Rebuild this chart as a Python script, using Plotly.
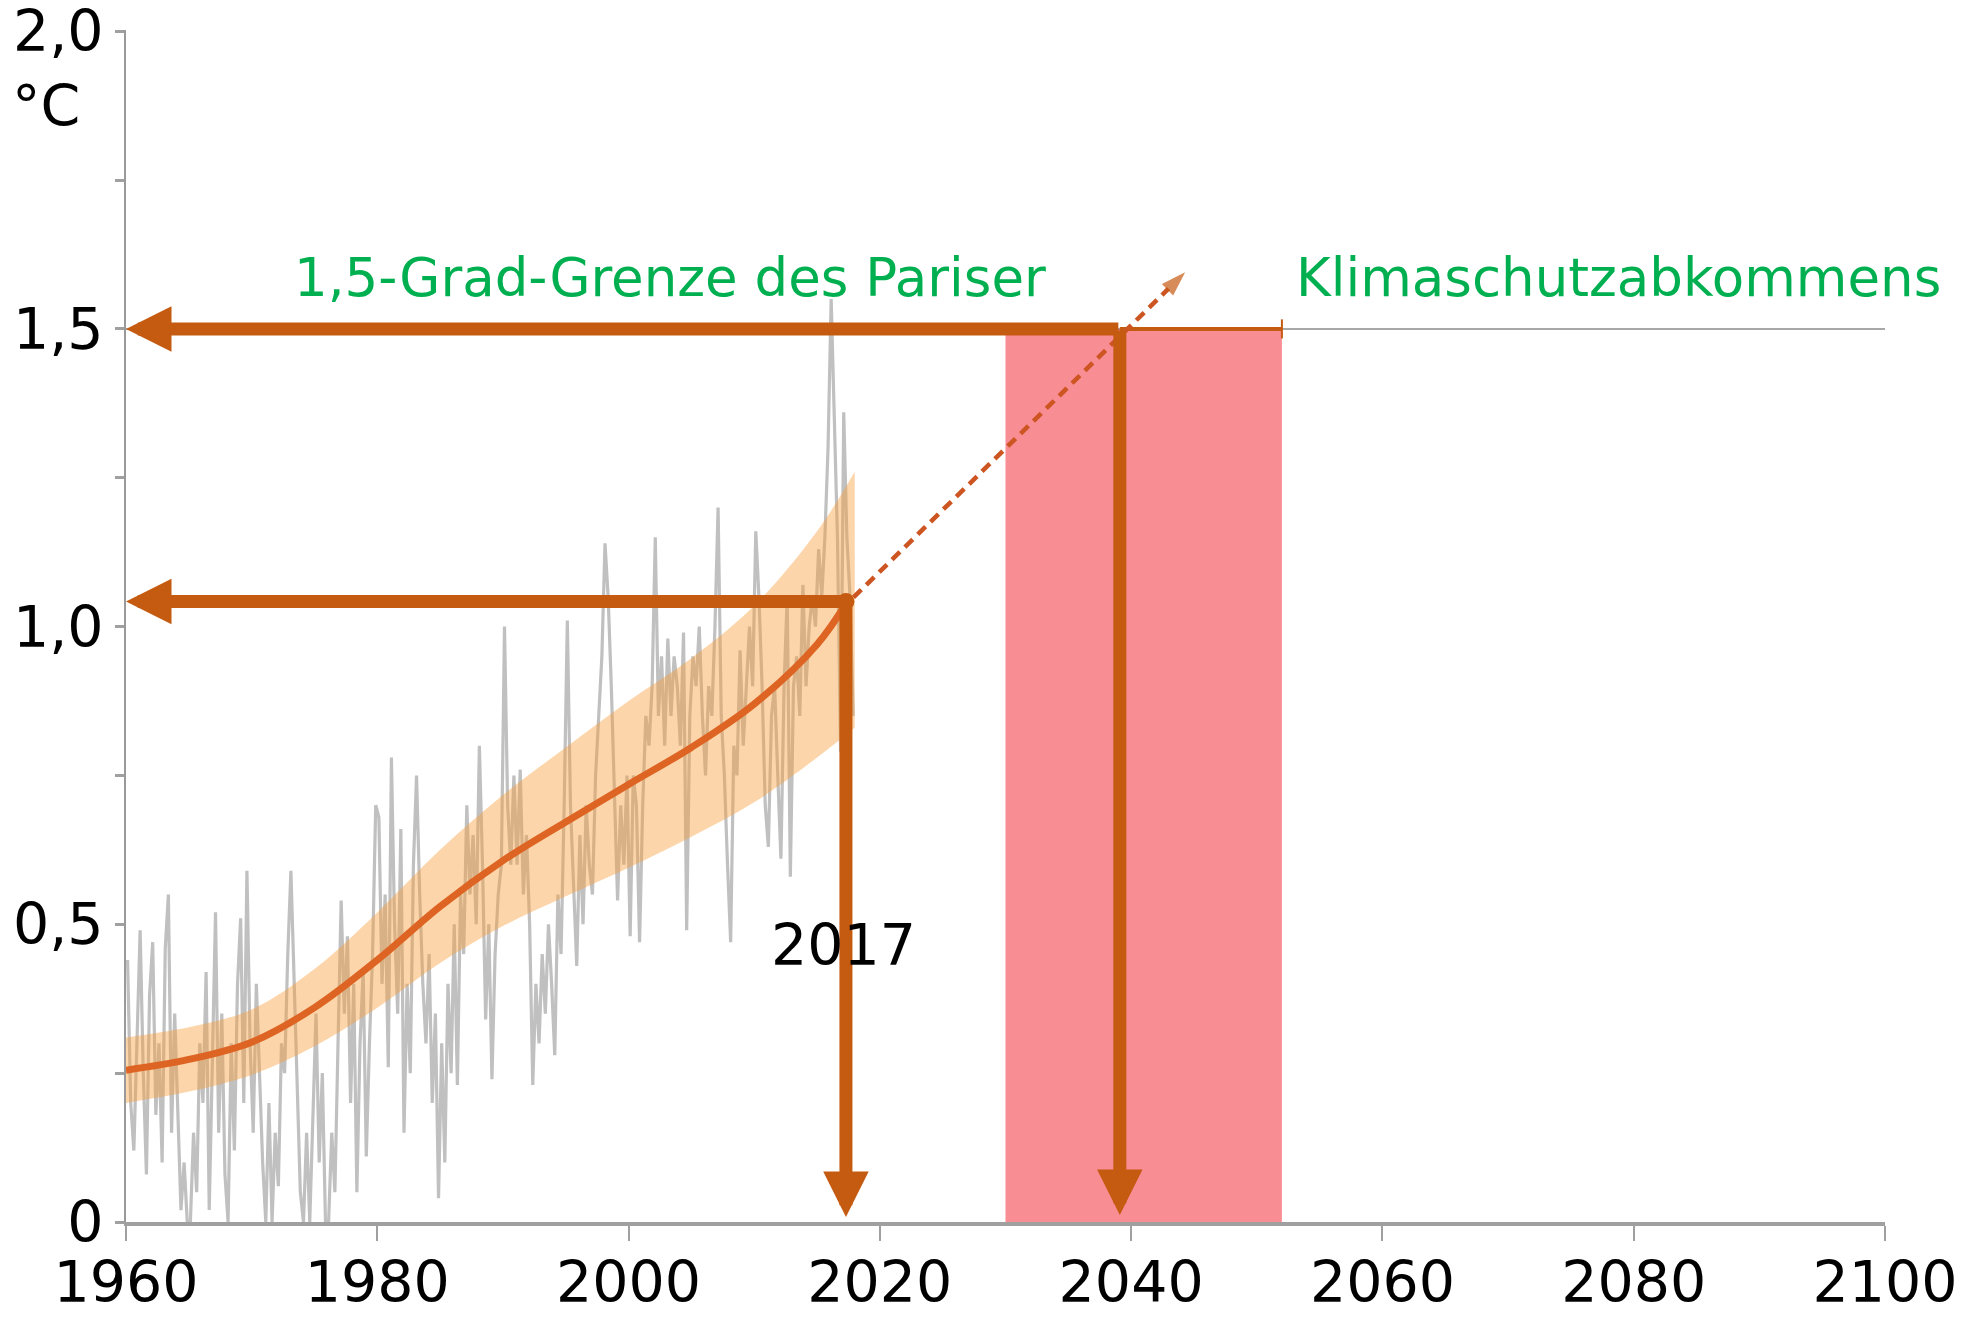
import numpy as np
import plotly.graph_objects as go

# ---------------- data ----------------
# observed anomaly (grey), estimated quarterly values 1960-2017
grey_start_year = 1960
grey_values = [
    0.44, 0.20, 0.12, 0.30,   # 1960
    0.49, 0.25, 0.08, 0.38,   # 1961
    0.47, 0.18, 0.30, 0.10,   # 1962
    0.46, 0.55, 0.15, 0.35,   # 1963
    0.20, 0.02, 0.10, 0.00,   # 1964
    0.00, 0.15, 0.05, 0.30,   # 1965
    0.20, 0.42, 0.02, 0.25,   # 1966
    0.52, 0.15, 0.35, 0.08,   # 1967
    0.00, 0.30, 0.12, 0.40,   # 1968
    0.51, 0.20, 0.59, 0.30,   # 1969
    0.15, 0.40, 0.25, 0.10,   # 1970
    0.00, 0.20, 0.00, 0.15,   # 1971
    0.06, 0.30, 0.25, 0.45,   # 1972
    0.59, 0.40, 0.20, 0.05,   # 1973
    0.00, 0.15, 0.00, 0.20,   # 1974
    0.35, 0.10, 0.25, 0.00,   # 1975
    0.00, 0.15, 0.05, 0.30,   # 1976
    0.54, 0.35, 0.48, 0.20,   # 1977
    0.40, 0.05, 0.30, 0.42,   # 1978
    0.11, 0.30, 0.45, 0.70,   # 1979
    0.68, 0.40, 0.55, 0.26,   # 1980
    0.78, 0.50, 0.35, 0.66,   # 1981
    0.15, 0.40, 0.25, 0.60,   # 1982
    0.75, 0.55, 0.40, 0.30,   # 1983
    0.45, 0.20, 0.35, 0.04,   # 1984
    0.30, 0.10, 0.40, 0.25,   # 1985
    0.50, 0.23, 0.55, 0.45,   # 1986
    0.70, 0.55, 0.65, 0.50,   # 1987
    0.80, 0.60, 0.34, 0.50,   # 1988
    0.24, 0.45, 0.55, 0.60,   # 1989
    1.00, 0.70, 0.60, 0.75,   # 1990
    0.60, 0.76, 0.55, 0.65,   # 1991
    0.50, 0.23, 0.40, 0.30,   # 1992
    0.45, 0.35, 0.50, 0.40,   # 1993
    0.28, 0.55, 0.45, 0.70,   # 1994
    1.01, 0.70, 0.55, 0.43,   # 1995
    0.65, 0.50, 0.70, 0.60,   # 1996
    0.55, 0.75, 0.85, 0.95,   # 1997
    1.14, 1.05, 0.90, 0.70,   # 1998
    0.54, 0.70, 0.60, 0.75,   # 1999
    0.48, 0.75, 0.70, 0.47,   # 2000
    0.70, 0.85, 0.80, 0.90,   # 2001
    1.15, 0.85, 0.95, 0.80,   # 2002
    0.98, 0.85, 0.95, 0.90,   # 2003
    0.80, 0.99, 0.49, 0.85,   # 2004
    0.95, 0.90, 1.00, 0.85,   # 2005
    0.75, 0.90, 0.85, 1.00,   # 2006
    1.20, 0.85, 0.75, 0.60,   # 2007
    0.47, 0.80, 0.75, 0.96,   # 2008
    0.80, 0.90, 1.00, 0.90,   # 2009
    1.16, 1.05, 0.90, 0.70,   # 2010
    0.63, 0.85, 0.90, 0.75,   # 2011
    0.61, 0.90, 1.05, 0.58,   # 2012
    0.90, 0.95, 0.85, 1.07,   # 2013
    0.90, 1.00, 1.05, 1.00,   # 2014
    1.13, 1.05, 1.15, 1.30,   # 2015
    1.55, 1.35, 1.15, 0.79,   # 2016
    1.36, 1.15, 1.05, 0.85,   # 2017
]

# smoothed trend and uncertainty band
trend_years = [1960, 1965, 1970, 1975, 1980, 1985, 1990, 1995, 2000, 2005, 2010, 2015, 2017.4]
trend_values = [0.255, 0.273, 0.302, 0.36, 0.44, 0.53, 0.607, 0.672, 0.735, 0.797, 0.87, 0.97, 1.042]
band_years = [1960, 1965, 1970, 1975, 1980, 1985, 1990, 1995, 2000, 2005, 2010, 2015, 2018]
band_upper = [0.31, 0.327, 0.357, 0.425, 0.52, 0.625, 0.717, 0.797, 0.875, 0.947, 1.035, 1.16, 1.26]
band_lower = [0.20, 0.219, 0.247, 0.295, 0.36, 0.435, 0.497, 0.547, 0.595, 0.647, 0.705, 0.78, 0.83]

# key points
year_now = 2017.3
temp_now = 1.042
year_limit = 2039.1
limit_temp = 1.5
range_start, range_end = 2030, 2052
proj_start = (2017.9, 1.049)
proj_end = (2044.3, 1.595)

x_ticks = [1960, 1980, 2000, 2020, 2040, 2060, 2080, 2100]
y_ticks = [0, 0.25, 0.5, 0.75, 1.0, 1.25, 1.5, 1.75, 2.0]
y_ticktext = ["0", "", "0,5", "", "1,0", "", "1,5", "", "2,0"]

title_left = "1,5-Grad-Grenze des Pariser"
title_right = "Klimaschutzabkommens"

# ---------------- styles ----------------
FONT = "DejaVu Sans"
ARROW = "#C55A11"
GREEN = "#00B050"
GREY = "#C0C0C0"
AXIS_GREY = "#A0A0A0"

grey_x = grey_start_year + np.arange(len(grey_values)) * 0.25 + 0.125

fig = go.Figure()

# thin reference line at 1.5
fig.add_trace(go.Scatter(x=[x_ticks[0], x_ticks[-1]], y=[limit_temp, limit_temp], mode="lines",
                         line=dict(color="#A8A8A8", width=2), hoverinfo="skip"))

# grey observations
fig.add_trace(go.Scatter(x=grey_x, y=grey_values, mode="lines",
                         line=dict(color=GREY, width=3.2), hoverinfo="skip"))

# uncertainty band
fig.add_trace(go.Scatter(x=band_years, y=band_lower, mode="lines",
                         line=dict(width=0, shape="spline"), hoverinfo="skip"))
fig.add_trace(go.Scatter(x=band_years, y=band_upper, mode="lines", fill="tonexty",
                         fillcolor="rgba(248,157,57,0.43)",
                         line=dict(width=0, shape="spline"), hoverinfo="skip"))

# trend line
fig.add_trace(go.Scatter(x=trend_years, y=trend_values, mode="lines",
                         line=dict(color="#DE6424", width=7, shape="spline"), hoverinfo="skip"))

# red target range
fig.add_trace(go.Scatter(x=[range_start, range_end, range_end, range_start, range_start],
                         y=[0, 0, limit_temp, limit_temp, 0], fill="toself",
                         fillcolor="rgba(242,55,65,0.57)", line=dict(width=0),
                         mode="lines", hoverinfo="skip"))

# thin orange continuation at 1.5 with end tick
fig.add_trace(go.Scatter(x=[year_limit, range_end], y=[limit_temp, limit_temp], mode="lines",
                         line=dict(color=ARROW, width=4), hoverinfo="skip"))
fig.add_trace(go.Scatter(x=[range_end, range_end], y=[limit_temp - 0.016, limit_temp + 0.016],
                         mode="lines", line=dict(color=ARROW, width=2), hoverinfo="skip"))

# dashed projection arrow
fig.add_trace(go.Scatter(x=[proj_start[0], proj_end[0]], y=[proj_start[1], proj_end[1]],
                         mode="lines+markers",
                         line=dict(color="#CC5522", width=4.5, dash="11px,7px"),
                         marker=dict(symbol=["circle", "arrow"], size=[0, 26], color=ARROW,
                                     angleref="previous", line=dict(width=0)),
                         hoverinfo="skip"))

# corner dot at 2017
fig.add_trace(go.Scatter(x=[year_now], y=[temp_now], mode="markers",
                         marker=dict(color=ARROW, size=17), hoverinfo="skip"))

annotations = []


def arrow(x_tip, y_tip, x_tail, y_tail, standoff=0):
    annotations.append(dict(x=x_tip, y=y_tip, ax=x_tail, ay=y_tail, xref="x", yref="y",
                            axref="x", ayref="y", text="", showarrow=True, arrowhead=2,
                            arrowwidth=13, arrowsize=0.7, arrowcolor=ARROW, standoff=standoff))


arrow(x_ticks[0], temp_now, year_now, temp_now)
arrow(year_now, 0, year_now, temp_now, standoff=5)
arrow(x_ticks[0], limit_temp, year_limit, limit_temp)
arrow(year_limit, 0, year_limit, limit_temp, standoff=7)

annotations += [
    dict(x=1973.2, y=1.586, xref="x", yref="y", text=title_left, showarrow=False,
         xanchor="left", yanchor="middle", font=dict(family=FONT, size=53, color=GREEN)),
    dict(x=2053.0, y=1.586, xref="x", yref="y", text=title_right, showarrow=False,
         xanchor="left", yanchor="middle", font=dict(family=FONT, size=53, color=GREEN)),
    dict(x=2017.1, y=0.465, xref="x", yref="y", text="2017", showarrow=False,
         xanchor="center", yanchor="middle", font=dict(family=FONT, size=57, color="black")),
    dict(x=-0.066, y=0.936, xref="paper", yref="paper", text="°C", showarrow=False,
         xanchor="left", yanchor="middle", font=dict(family=FONT, size=57, color="black")),
]

fig.update_layout(
    width=1975, height=1319,
    margin=dict(l=126, r=90, t=30, b=97, autoexpand=False),
    paper_bgcolor="white", plot_bgcolor="white",
    showlegend=False,
    annotations=annotations,
    font=dict(family=FONT, size=57, color="black"),
)
fig.update_xaxes(range=[x_ticks[0], x_ticks[-1]], tickvals=x_ticks, ticktext=[str(t) for t in x_ticks],
                 ticks="outside", ticklen=15, tickwidth=2, tickcolor=AXIS_GREY, automargin=False,
                 ticklabeloverflow="allow", ticklabelstandoff=-7,
                 showline=True, linecolor=AXIS_GREY, linewidth=4, showgrid=False, zeroline=False,
                 tickfont=dict(family=FONT, size=57, color="black"))
fig.update_yaxes(range=[0, 2.002], tickvals=y_ticks, ticktext=y_ticktext, automargin=False,
                 ticklabeloverflow="allow",
                 ticks="outside", ticklen=9, tickwidth=3, tickcolor=AXIS_GREY,
                 showline=True, linecolor="#9A9A9A", linewidth=2, showgrid=False, zeroline=False,
                 tickfont=dict(family=FONT, size=57, color="black"))

# remove the default 8px body margin so the figure fills the window exactly
fig.write_html("out.html", config={"displayModeBar": False},
               post_script="document.body.style.margin='0';document.body.style.overflow='hidden';")
